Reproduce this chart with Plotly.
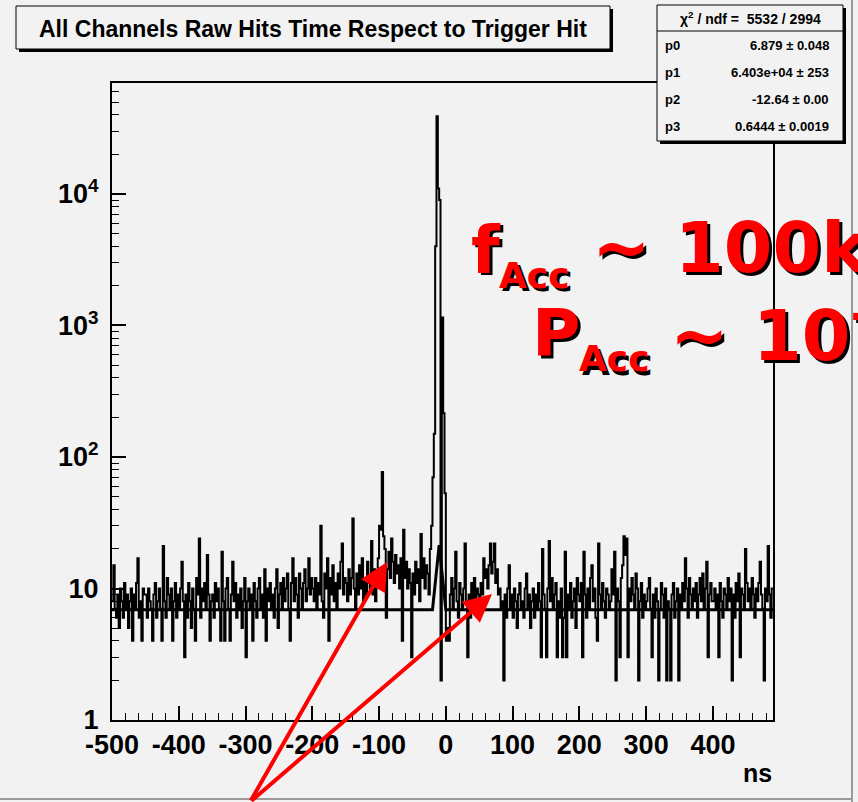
import numpy as np
import plotly.graph_objects as go

# ---------------- data (2 ns bins, -500 .. 490 ns) ----------------
BIN_LO = -500
BIN_W = 2
c_n500 = [8, 15, 7, 6, 9, 5, 10, 8, 6, 11, 7, 9, 5, 8, 10, 4, 9, 7, 11, 17, 6, 8, 4, 10, 9]
c_n450 = [9, 6, 10, 8, 7, 4, 9, 11, 6, 8, 10, 7, 4, 21, 8, 6, 12, 9, 7, 10, 4, 8, 11, 6, 9]
c_n400 = [7, 10, 16, 8, 3, 9, 6, 11, 8, 5, 10, 7, 4, 12, 9, 24, 6, 10, 8, 11, 7, 18, 9, 4, 8]
c_n350 = [9, 6, 11, 8, 10, 7, 4, 19, 8, 4, 10, 12, 7, 4, 9, 16, 8, 11, 6, 9, 7, 10, 5, 8, 12]
c_n300 = [3, 8, 10, 7, 9, 4, 11, 8, 6, 10, 12, 7, 9, 6, 14, 4, 10, 8, 11, 7, 9, 6, 10, 14, 5]
c_n250 = [9, 11, 7, 12, 8, 10, 13, 7, 4, 11, 17, 8, 12, 9, 6, 13, 10, 7, 11, 14, 8, 10, 17, 9, 12]
c_n200 = [10, 8, 12, 7, 11, 9, 30, 8, 6, 13, 10, 17, 4, 12, 9, 15, 8, 11, 7, 13, 10, 16, 22, 9, 12]
c_n150 = [11, 8, 14, 9, 12, 34, 10, 7, 13, 9, 15, 10, 17, 8, 12, 9, 16, 11, 10, 23, 9, 14, 8, 12, 17]
c_n100 = [30, 28, 77, 25, 20, 6, 14, 19, 12, 24, 16, 11, 18, 13, 15, 10, 17, 4, 28, 12, 16, 10, 14, 11, 3]
c_n050 = [13, 9, 16, 11, 14, 8, 26, 12, 17, 10, 15, 13, 9, 20, 30, 70, 150, 4000, 39000, 11000, 9000, 2, 1150, 215, 53]
c_p000 = [4, 5, 4, 9, 12, 7, 10, 19, 8, 6, 11, 9, 7, 10, 22, 8, 3, 9, 6, 11, 8, 12, 7, 10, 9]
c_p050 = [8, 11, 9, 17, 12, 14, 10, 15, 22, 13, 16, 22, 11, 14, 9, 10, 7, 8, 2, 9, 6, 10, 15, 7, 9]
c_p100 = [6, 10, 8, 5, 9, 11, 7, 8, 6, 10, 13, 7, 9, 5, 8, 10, 6, 9, 7, 11, 8, 3, 20, 9, 7]
c_p150 = [3, 10, 23, 8, 12, 7, 9, 11, 3, 8, 6, 10, 3, 6, 19, 3, 9, 7, 11, 6, 8, 10, 5, 12, 9]
c_p200 = [8, 11, 3, 19, 9, 6, 10, 7, 12, 15, 8, 10, 6, 4, 22, 9, 7, 11, 8, 6, 10, 9, 7, 8, 14]
c_p250 = [9, 19, 2, 10, 8, 3, 12, 15, 25, 18, 24, 3, 10, 8, 12, 9, 7, 13, 10, 2, 8, 11, 6, 9, 7]
c_p300 = [8, 10, 12, 7, 3, 9, 6, 10, 8, 2, 7, 11, 9, 6, 10, 2, 8, 7, 2, 9, 11, 6, 8, 10, 2]
c_p350 = [9, 7, 11, 8, 17, 10, 6, 12, 9, 7, 10, 8, 11, 6, 9, 12, 8, 13, 7, 10, 16, 3, 9, 11, 8]
c_p400 = [8, 10, 7, 9, 3, 11, 8, 6, 10, 9, 7, 12, 8, 10, 2, 9, 6, 11, 8, 13, 3, 10, 9, 7, 20]
c_p450 = [11, 8, 10, 7, 12, 9, 6, 10, 8, 11, 16, 9, 7, 2, 10, 8, 21, 9, 6, 10]

# fit parameters (gaus + pol0) from the stats box
p0, p1, p2, p3 = 6.879, 6.403e4, -12.64, 0.6444
x_tick_vals = [-500, -400, -300, -200, -100, 0, 100, 200, 300, 400]
x_tick_text = ["-500", "-400", "-300", "-200", "-100", "0", "100", "200", "300", "400"]
y_tick_vals = [1, 10, 100, 1000, 10000]
y_tick_text = ["1", "10", "10<sup>2</sup>", "10<sup>3</sup>", "10<sup>4</sup>"]

counts = (c_n500 + c_n450 + c_n400 + c_n350 + c_n300 + c_n250 + c_n200 + c_n150 +
          c_n100 + c_n050 + c_p000 + c_p050 + c_p100 + c_p150 + c_p200 + c_p250 +
          c_p300 + c_p350 + c_p400 + c_p450)
edges = BIN_LO + BIN_W * np.arange(len(counts) + 1)
X_MAX = edges[-1]

# ---------------- figure ----------------
W, H = 858, 802
L, R, T, B = 112, 773, 83, 720
BG = "#f2f2f2"


def px(x):
    return (x - L) / (R - L)


def py(y):
    return (B - y) / (B - T)


fig = go.Figure()
fig.add_trace(go.Scatter(x=edges, y=counts + [counts[-1]], mode="lines",
                         line=dict(color="black", width=2, shape="hv"),
                         hoverinfo="skip"))
xf = np.linspace(BIN_LO, X_MAX, 100)
yf = p0 + p1 * np.exp(-0.5 * ((xf - p2) / p3) ** 2)
fig.add_trace(go.Scatter(x=xf, y=yf, mode="lines",
                         line=dict(color="black", width=3), hoverinfo="skip"))

xtickfont = dict(family="Liberation Sans", size=27, color="black", weight="bold")
ytickfont = dict(family="Liberation Sans", size=27, color="black", weight="bold")
minor_y = [m * 10 ** d for d in range(0, 5) for m in range(2, 10) if m * 10 ** d < 70000]

fig.update_layout(
    width=W, height=H, paper_bgcolor=BG, plot_bgcolor=BG,
    margin=dict(l=L, r=W - R, t=T, b=H - B), showlegend=False,
    xaxis=dict(range=[BIN_LO, X_MAX], showline=True, linecolor="black", linewidth=2,
               mirror=True, ticks="inside", ticklen=14, tickwidth=1.5, tickcolor="black",
               tickmode="array", tickvals=x_tick_vals, ticktext=x_tick_text,
               tickfont=xtickfont, showgrid=False, zeroline=False,
               minor=dict(ticks="inside", ticklen=7, tickwidth=1.2, tickcolor="black",
                          dtick=20, tick0=-500, showgrid=False)),
    yaxis=dict(type="log", range=[0, 4.844], showline=True, linecolor="black", linewidth=2,
               mirror=True, ticks="inside", ticklen=14, tickwidth=1.5, tickcolor="black",
               tickmode="array", tickvals=y_tick_vals, ticktext=y_tick_text,
               tickfont=ytickfont, showgrid=False, zeroline=False, ticklabelstandoff=6,
               minor=dict(ticks="inside", ticklen=7, tickwidth=1.2, tickcolor="black",
                          tickmode="array", tickvals=minor_y, showgrid=False)),
)

shapes = []


def box(x0, y0, x1, y1, shadow=3):
    shapes.append(dict(type="rect", xref="paper", yref="paper", x0=px(x0 + shadow), x1=px(x1 + shadow),
                       y0=py(y1 + shadow), y1=py(y0 + shadow), fillcolor="black",
                       line=dict(width=0), layer="above"))
    shapes.append(dict(type="rect", xref="paper", yref="paper", x0=px(x0), x1=px(x1),
                       y0=py(y1), y1=py(y0), fillcolor=BG,
                       line=dict(color="black", width=1), layer="above"))


box(16, 6, 610, 49)
box(657, 5, 843, 141)
shapes.append(dict(type="line", xref="paper", yref="paper", x0=px(657), x1=px(843),
                   y0=py(31), y1=py(31), line=dict(color="black", width=1), layer="above"))
# canvas border
shapes.append(dict(type="line", xref="paper", yref="paper", x0=px(852), x1=px(852),
                   y0=py(0), y1=py(H), line=dict(color="#9a9a9a", width=2), layer="above"))
shapes.append(dict(type="line", xref="paper", yref="paper", x0=px(0), x1=px(852),
                   y0=py(799), y1=py(799), line=dict(color="#9a9a9a", width=2), layer="above"))
fig.update_layout(shapes=shapes)

ann = []
hel = "Liberation Sans"
ann.append(dict(x=px(313), y=py(29), xref="paper", yref="paper", showarrow=False,
                text="All Channels Raw Hits Time Respect to Trigger Hit",
                font=dict(family=hel, size=23, color="black", weight="bold"),
                xanchor="center", yanchor="middle"))
ann.append(dict(x=px(750), y=py(18), xref="paper", yref="paper", showarrow=False,
                text="\u03c7<sup>2</sup> / ndf =  5532 / 2994",
                font=dict(family=hel, size=14, color="black", weight="bold"),
                xanchor="center", yanchor="middle"))
rows = [("p0", "6.879 \u00b1 0.048"), ("p1", "6.403e+04 \u00b1 253"),
        ("p2", "-12.64 \u00b1 0.00"), ("p3", "0.6444 \u00b1 0.0019")]
for i, (name, val) in enumerate(rows):
    yy = 45 + 27 * i
    ann.append(dict(x=px(663), y=py(yy), xref="paper", yref="paper", showarrow=False,
                    text=name, font=dict(family=hel, size=13, color="black", weight="bold"),
                    xanchor="left", yanchor="middle"))
    ann.append(dict(x=px(831), y=py(yy), xref="paper", yref="paper", showarrow=False,
                    text=val, font=dict(family=hel, size=13, color="black", weight="bold"),
                    xanchor="right", yanchor="middle"))
ann.append(dict(x=px(774), y=py(773), xref="paper", yref="paper", showarrow=False,
                text="ns", font=dict(family=hel, size=25, color="black", weight="bold"),
                xanchor="right", yanchor="middle"))


def red_text(text, x, y, size):
    for dx, col in ((3, "black"), (0, "#ff0000")):
        ann.append(dict(x=px(x + dx), y=py(y + dx), xref="paper", yref="paper", showarrow=False,
                        text=text, font=dict(family="DejaVu Sans", size=size, color=col, weight="bold"),
                        xanchor="left", yanchor="middle"))


red_text("f", 469, 250, 66)
red_text("Acc", 497, 275, 36)
red_text("~ 100kHz", 590, 248, 70)
red_text("P", 530, 333, 66)
red_text("Acc", 577, 359, 36)
red_text("~ 10<sup>-4</sup>", 668, 331, 70)

for tip in ((387, 562), (492, 594)):
    ann.append(dict(x=px(tip[0]), y=py(tip[1]), xref="paper", yref="paper", text="",
                    showarrow=True, arrowhead=2, arrowsize=1.4, arrowwidth=4,
                    arrowcolor="#ff0000", ax=250 - tip[0], ay=806 - tip[1], standoff=0))
fig.update_layout(annotations=ann)

fig.write_html("out.html", config={"displayModeBar": False},
               post_script="document.body.style.margin='0';document.body.style.overflow='hidden';")
